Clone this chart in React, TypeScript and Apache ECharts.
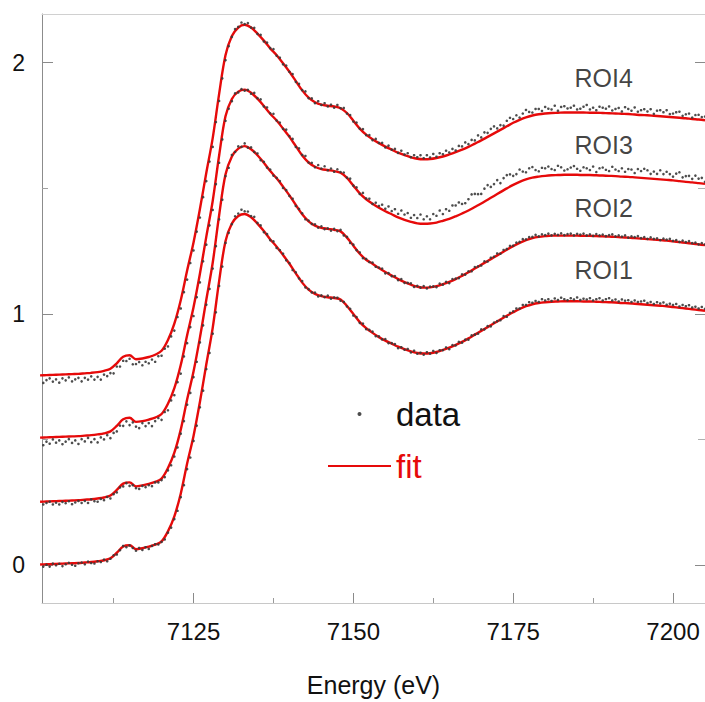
import React, { useEffect, useRef } from "react";
import * as echarts from "echarts";

// ---- sampling grids (energy, eV) ----
const FIT_START = 7101;
const FIT_STEP = 1;
const DATA_START = 7101;
const DATA_STEP = 0.5;

const X_MIN = 7101.3;
const X_MAX = 7205;
const Y_MIN = -0.15;
const Y_MAX = 2.194;

const xTickValues = [7125, 7150, 7175, 7200];
const xMinorTickValues = [7112.5, 7137.5, 7162.5, 7187.5];
const yTickValues = [0, 1, 2];
const yMinorTickValues = [0.5, 1.5];

const roiNames = ["ROI1", "ROI2", "ROI3", "ROI4"];
const roiOffsets = [0, 0.25, 0.5, 0.75];
const roiLabelX = 7184.5;
const roiLabelY = [1.174, 1.423, 1.672, 1.94];

// ---- fits (normalized, 1 eV steps from 7101) ----
const fitROI1 = [
  0.003, 0.004, 0.005, 0.006, 0.007, 0.008, 0.009, 0.011, 0.013, 0.016,
  0.020, 0.028, 0.050, 0.075, 0.080, 0.064, 0.068, 0.074, 0.082, 0.095,
  0.135, 0.195, 0.285, 0.405, 0.515, 0.650, 0.800, 0.945, 1.130, 1.290,
  1.360, 1.390, 1.398, 1.385, 1.360, 1.330, 1.297, 1.268, 1.235, 1.200,
  1.162, 1.125, 1.097, 1.080, 1.071, 1.067, 1.064, 1.058, 1.032, 1.000,
  0.968, 0.944, 0.925, 0.908, 0.894, 0.882, 0.870, 0.860, 0.851, 0.845,
  0.843, 0.844, 0.849, 0.857, 0.866, 0.877, 0.889, 0.903, 0.918, 0.933,
  0.948, 0.963, 0.978, 0.993, 1.007, 1.020, 1.031, 1.039, 1.044, 1.047,
  1.049, 1.050, 1.051, 1.051, 1.051, 1.050, 1.050, 1.049, 1.048, 1.047,
  1.046, 1.044, 1.043, 1.041, 1.039, 1.037, 1.035, 1.033, 1.031, 1.028,
  1.025, 1.022, 1.019, 1.016, 1.013,
];
const fitROI2 = [
  0.003, 0.004, 0.005, 0.006, 0.007, 0.008, 0.009, 0.011, 0.013, 0.016,
  0.020, 0.028, 0.050, 0.075, 0.080, 0.064, 0.068, 0.074, 0.082, 0.095,
  0.137, 0.198, 0.290, 0.410, 0.521, 0.656, 0.807, 0.954, 1.142, 1.305,
  1.377, 1.408, 1.418, 1.406, 1.382, 1.352, 1.319, 1.290, 1.257, 1.222,
  1.184, 1.147, 1.119, 1.102, 1.093, 1.089, 1.085, 1.079, 1.054, 1.022,
  0.990, 0.966, 0.950, 0.933, 0.917, 0.903, 0.889, 0.877, 0.867, 0.859,
  0.855, 0.856, 0.861, 0.869, 0.878, 0.889, 0.902, 0.916, 0.931, 0.946,
  0.961, 0.976, 0.991, 1.006, 1.020, 1.033, 1.044, 1.052, 1.057, 1.060,
  1.062, 1.062, 1.062, 1.062, 1.062, 1.061, 1.061, 1.060, 1.059, 1.058,
  1.057, 1.055, 1.054, 1.052, 1.050, 1.048, 1.046, 1.044, 1.042, 1.039,
  1.036, 1.033, 1.030, 1.027, 1.024,
];
const fitROI3 = [
  0.008, 0.009, 0.010, 0.011, 0.012, 0.013, 0.014, 0.016, 0.018, 0.021,
  0.025, 0.033, 0.055, 0.081, 0.087, 0.071, 0.074, 0.080, 0.088, 0.102,
  0.143, 0.205, 0.297, 0.416, 0.527, 0.660, 0.808, 0.950, 1.130, 1.287,
  1.356, 1.385, 1.393, 1.381, 1.357, 1.328, 1.297, 1.270, 1.238, 1.205,
  1.168, 1.131, 1.103, 1.086, 1.077, 1.073, 1.069, 1.062, 1.042, 1.011,
  0.980, 0.957, 0.939, 0.923, 0.909, 0.897, 0.885, 0.875, 0.867, 0.861,
  0.859, 0.860, 0.864, 0.871, 0.879, 0.889, 0.900, 0.912, 0.926, 0.940,
  0.955, 0.970, 0.985, 1.000, 1.014, 1.026, 1.036, 1.043, 1.047, 1.050,
  1.052, 1.053, 1.054, 1.054, 1.054, 1.053, 1.053, 1.052, 1.051, 1.050,
  1.049, 1.047, 1.046, 1.044, 1.042, 1.040, 1.038, 1.036, 1.034, 1.032,
  1.029, 1.026, 1.024, 1.021, 1.018,
];
const fitROI4 = [
  0.006, 0.007, 0.008, 0.009, 0.010, 0.011, 0.012, 0.014, 0.016, 0.019,
  0.024, 0.032, 0.054, 0.080, 0.086, 0.070, 0.073, 0.079, 0.088, 0.104,
  0.147, 0.212, 0.305, 0.423, 0.535, 0.668, 0.812, 0.950, 1.125, 1.280,
  1.356, 1.390, 1.401, 1.390, 1.366, 1.338, 1.307, 1.280, 1.248, 1.214,
  1.177, 1.140, 1.111, 1.093, 1.083, 1.079, 1.076, 1.069, 1.050, 1.019,
  0.988, 0.964, 0.946, 0.930, 0.916, 0.904, 0.892, 0.882, 0.874, 0.868,
  0.866, 0.867, 0.871, 0.877, 0.885, 0.894, 0.904, 0.915, 0.928, 0.941,
  0.955, 0.969, 0.983, 0.997, 1.011, 1.023, 1.033, 1.040, 1.045, 1.048,
  1.050, 1.051, 1.052, 1.052, 1.052, 1.052, 1.051, 1.051, 1.050, 1.049,
  1.048, 1.047, 1.046, 1.044, 1.042, 1.041, 1.039, 1.037, 1.035, 1.033,
  1.031, 1.029, 1.026, 1.024, 1.021,
];

// ---- measured data (normalized, 0.5 eV steps from 7101) ----
const dataROI1 = [
  0.004, -0.005, 0.002, -0.005, 0.007, 0.000, 0.006, -0.003, 0.004, 0.010,
  0.002, -0.002, 0.008, 0.011, 0.004, 0.015, 0.009, 0.007, 0.016, 0.013,
  0.023, 0.016, 0.026, 0.040, 0.043, 0.060, 0.077, 0.072, 0.079, 0.069,
  0.058, 0.069, 0.061, 0.072, 0.065, 0.077, 0.084, 0.083, 0.093, 0.103,
  0.130, 0.150, 0.184, 0.217, 0.271, 0.319, 0.383, 0.429, 0.495, 0.556,
  0.629, 0.695, 0.781, 0.845, 0.922, 1.007, 1.112, 1.189, 1.283, 1.323,
  1.358, 1.389, 1.400, 1.415, 1.409, 1.408, 1.390, 1.387, 1.363, 1.353,
  1.326, 1.318, 1.294, 1.289, 1.263, 1.254, 1.240, 1.214, 1.203, 1.175,
  1.166, 1.142, 1.131, 1.106, 1.099, 1.086, 1.085, 1.070, 1.074, 1.067,
  1.073, 1.061, 1.066, 1.065, 1.053, 1.048, 1.030, 1.021, 0.994, 0.988,
  0.965, 0.962, 0.940, 0.937, 0.930, 0.912, 0.911, 0.899, 0.900, 0.884,
  0.884, 0.880, 0.864, 0.868, 0.858, 0.861, 0.847, 0.854, 0.842, 0.846,
  0.838, 0.848, 0.842, 0.853, 0.845, 0.856, 0.856, 0.867, 0.860, 0.876,
  0.875, 0.889, 0.886, 0.898, 0.898, 0.915, 0.918, 0.922, 0.939, 0.939,
  0.952, 0.951, 0.966, 0.972, 0.975, 0.992, 0.989, 1.005, 1.011, 1.022,
  1.022, 1.036, 1.036, 1.047, 1.045, 1.052, 1.048, 1.059, 1.054, 1.059,
  1.052, 1.062, 1.056, 1.065, 1.059, 1.055, 1.063, 1.058, 1.066, 1.056,
  1.061, 1.058, 1.063, 1.054, 1.059, 1.063, 1.054, 1.059, 1.063, 1.054,
  1.058, 1.050, 1.058, 1.053, 1.055, 1.048, 1.054, 1.048, 1.050, 1.053,
  1.044, 1.048, 1.040, 1.047, 1.042, 1.046, 1.037, 1.041, 1.036, 1.040,
  1.030, 1.036, 1.031, 1.035, 1.026, 1.029, 1.022, 1.028, 1.021,
];
const dataROI2 = [
  0.000, -0.008, -0.002, 0.003, -0.008, -0.001, -0.008, 0.002, -0.003, 0.005,
  -0.007, 0.000, 0.006, -0.002, 0.006, -0.002, 0.012, 0.005, 0.003, 0.014,
  0.009, 0.022, 0.016, 0.033, 0.040, 0.060, 0.064, 0.077, 0.066, 0.069,
  0.057, 0.054, 0.066, 0.061, 0.069, 0.065, 0.080, 0.080, 0.089, 0.101,
  0.128, 0.148, 0.183, 0.219, 0.274, 0.324, 0.389, 0.436, 0.499, 0.560,
  0.637, 0.705, 0.787, 0.850, 0.931, 1.020, 1.127, 1.205, 1.299, 1.332,
  1.383, 1.395, 1.417, 1.415, 1.429, 1.412, 1.413, 1.395, 1.389, 1.362,
  1.356, 1.333, 1.325, 1.301, 1.292, 1.279, 1.252, 1.243, 1.220, 1.209,
  1.180, 1.168, 1.151, 1.127, 1.122, 1.109, 1.107, 1.094, 1.099, 1.088,
  1.091, 1.082, 1.089, 1.080, 1.085, 1.063, 1.057, 1.033, 1.026, 1.004,
  0.995, 0.972, 0.969, 0.957, 0.955, 0.938, 0.935, 0.931, 0.912, 0.913,
  0.901, 0.901, 0.885, 0.889, 0.874, 0.874, 0.872, 0.858, 0.862, 0.855,
  0.861, 0.852, 0.859, 0.860, 0.857, 0.871, 0.867, 0.878, 0.873, 0.889,
  0.891, 0.893, 0.908, 0.907, 0.920, 0.920, 0.937, 0.940, 0.943, 0.960,
  0.959, 0.974, 0.978, 0.991, 0.990, 1.005, 1.009, 1.021, 1.022, 1.034,
  1.037, 1.048, 1.047, 1.056, 1.057, 1.065, 1.059, 1.067, 1.064, 1.070,
  1.063, 1.069, 1.065, 1.071, 1.064, 1.068, 1.070, 1.063, 1.069, 1.066,
  1.070, 1.063, 1.067, 1.061, 1.068, 1.063, 1.066, 1.060, 1.064, 1.067,
  1.059, 1.063, 1.058, 1.063, 1.054, 1.059, 1.056, 1.060, 1.052, 1.056,
  1.049, 1.055, 1.049, 1.051, 1.044, 1.050, 1.046, 1.049, 1.041, 1.044,
  1.037, 1.042, 1.036, 1.040, 1.032, 1.034, 1.027, 1.032, 1.027,
];
const dataROI3 = [
  -0.004, -0.022, -0.008, -0.016, 0.001, -0.012, -0.003, -0.018, -0.008, 0.002,
  -0.013, -0.003, -0.017, 0.002, -0.007, 0.007, -0.010, 0.002, -0.011, 0.009,
  0.001, 0.018, 0.006, 0.027, 0.033, 0.056, 0.055, 0.073, 0.058, 0.069,
  0.052, 0.046, 0.066, 0.054, 0.066, 0.054, 0.074, 0.086, 0.079, 0.110,
  0.117, 0.156, 0.177, 0.229, 0.263, 0.331, 0.384, 0.448, 0.492, 0.567,
  0.626, 0.710, 0.776, 0.853, 0.914, 1.017, 1.102, 1.195, 1.269, 1.317,
  1.347, 1.378, 1.382, 1.395, 1.389, 1.392, 1.377, 1.380, 1.359, 1.354,
  1.326, 1.322, 1.299, 1.297, 1.270, 1.262, 1.237, 1.234, 1.208, 1.197,
  1.165, 1.159, 1.133, 1.129, 1.103, 1.102, 1.084, 1.093, 1.079, 1.088,
  1.072, 1.079, 1.066, 1.076, 1.065, 1.063, 1.043, 1.039, 1.011, 1.004,
  0.978, 0.982, 0.960, 0.959, 0.938, 0.943, 0.930, 0.935, 0.919, 0.928,
  0.910, 0.917, 0.899, 0.912, 0.896, 0.902, 0.883, 0.894, 0.882, 0.896,
  0.877, 0.889, 0.877, 0.898, 0.891, 0.912, 0.898, 0.917, 0.911, 0.932,
  0.932, 0.944, 0.938, 0.941, 0.957, 0.976, 0.978, 0.977, 0.978, 0.999,
  1.013, 1.006, 1.017, 1.033, 1.021, 1.041, 1.053, 1.056, 1.050, 1.057,
  1.075, 1.067, 1.064, 1.080, 1.085, 1.073, 1.068, 1.082, 1.080, 1.087,
  1.077, 1.073, 1.090, 1.084, 1.071, 1.076, 1.083, 1.089, 1.078, 1.070,
  1.084, 1.080, 1.073, 1.087, 1.065, 1.080, 1.083, 1.074, 1.069, 1.086,
  1.075, 1.069, 1.080, 1.066, 1.077, 1.075, 1.061, 1.077, 1.069, 1.078,
  1.072, 1.058, 1.067, 1.058, 1.072, 1.057, 1.066, 1.057, 1.047, 1.059,
  1.064, 1.044, 1.049, 1.050, 1.038, 1.051, 1.039, 1.042, 1.026,
];
const dataROI4 = [
  -0.010, -0.024, -0.013, -0.006, -0.019, -0.010, -0.023, -0.006, -0.014, -0.002,
  -0.018, -0.010, -0.004, -0.018, -0.004, -0.011, 0.002, -0.011, 0.000, -0.011,
  0.009, 0.003, 0.015, 0.014, 0.041, 0.041, 0.064, 0.063, 0.072, 0.050,
  0.051, 0.059, 0.046, 0.060, 0.054, 0.069, 0.060, 0.082, 0.084, 0.112,
  0.121, 0.161, 0.184, 0.238, 0.272, 0.337, 0.387, 0.453, 0.503, 0.578,
  0.634, 0.715, 0.779, 0.857, 0.915, 1.014, 1.098, 1.188, 1.260, 1.316,
  1.353, 1.384, 1.393, 1.410, 1.404, 1.408, 1.390, 1.389, 1.365, 1.361,
  1.335, 1.330, 1.308, 1.304, 1.278, 1.270, 1.244, 1.239, 1.214, 1.205,
  1.174, 1.166, 1.141, 1.136, 1.109, 1.108, 1.089, 1.097, 1.082, 1.089,
  1.076, 1.083, 1.071, 1.082, 1.069, 1.070, 1.048, 1.042, 1.016, 1.012,
  0.988, 0.986, 0.962, 0.962, 0.942, 0.947, 0.931, 0.931, 0.913, 0.920,
  0.904, 0.907, 0.891, 0.900, 0.885, 0.890, 0.874, 0.882, 0.874, 0.882,
  0.870, 0.882, 0.873, 0.887, 0.876, 0.890, 0.886, 0.900, 0.893, 0.907,
  0.901, 0.919, 0.917, 0.933, 0.926, 0.943, 0.941, 0.961, 0.953, 0.973,
  0.971, 0.987, 0.997, 0.989, 1.002, 1.000, 1.019, 1.031, 1.026, 1.041,
  1.032, 1.048, 1.062, 1.054, 1.052, 1.066, 1.066, 1.058, 1.074, 1.067,
  1.064, 1.079, 1.059, 1.074, 1.077, 1.068, 1.071, 1.079, 1.064, 1.067,
  1.075, 1.082, 1.064, 1.071, 1.061, 1.075, 1.071, 1.067, 1.076, 1.060,
  1.066, 1.070, 1.056, 1.073, 1.066, 1.059, 1.072, 1.055, 1.061, 1.065,
  1.056, 1.065, 1.047, 1.059, 1.061, 1.053, 1.061, 1.046, 1.048, 1.053,
  1.055, 1.039, 1.045, 1.048, 1.032, 1.042, 1.043, 1.034, 1.036,
];

const fitSets = [fitROI1, fitROI2, fitROI3, fitROI4];
const dataSets = [dataROI1, dataROI2, dataROI3, dataROI4];

const FONT = "'Liberation Sans', Arial, sans-serif";
const RED = "#e60a0a";
const DOT = "#3a3a3a";
const TEXT = "#111111";

function buildOption(): echarts.EChartsCoreOption {
  const fitSeries = fitSets.map((arr, k) => ({
    type: "line",
    name: "fit",
    data: arr.map((v, i) => [FIT_START + i * FIT_STEP, v + roiOffsets[k]]),
    showSymbol: false,
    symbol: "none",
    smooth: 0.35,
    lineStyle: { color: RED, width: 2.4 },
    itemStyle: { color: RED },
    silent: true,
    z: 2,
  }));
  const dataSeries = dataSets.map((arr, k) => ({
    type: "scatter",
    name: "data",
    data: arr.map((v, j) => [DATA_START + j * DATA_STEP, v + roiOffsets[k]]),
    symbol: "circle",
    symbolSize: 2.6,
    itemStyle: { color: DOT, opacity: 0.9 },
    silent: true,
    z: 3,
  }));
  const labelSeries = {
    type: "scatter",
    name: "roi-labels",
    data: roiNames.map((n, k) => ({ name: n, value: [roiLabelX, roiLabelY[k]] })),
    symbolSize: 1,
    itemStyle: { color: "rgba(0,0,0,0)" },
    label: {
      show: true,
      position: "right",
      distance: 0,
      formatter: "{b}",
      fontSize: 25,
      color: TEXT,
      fontFamily: FONT,
    },
    silent: true,
    z: 5,
  };

  const common = { type: "value", min: X_MIN, max: X_MAX, splitLine: { show: false } };
  const commonY = { type: "value", min: Y_MIN, max: Y_MAX, splitLine: { show: false } };

  return {
    animation: false,
    backgroundColor: "#ffffff",
    grid: { left: 42, top: 14, right: 0, bottom: 95, containLabel: false },
    legend: {
      show: true,
      orient: "vertical",
      left: 327,
      top: 397,
      padding: 0,
      itemWidth: 63,
      itemHeight: 4,
      itemGap: 18,
      selectedMode: false,
      data: [
        { name: "data", icon: "circle", itemStyle: { color: DOT } },
        { name: "fit", itemStyle: { opacity: 0 }, lineStyle: { color: RED, width: 2 }, textStyle: { color: RED } },
      ],
      textStyle: { fontSize: 33, lineHeight: 34, color: TEXT, fontFamily: FONT },
    },
    xAxis: [
      {
        ...common,
        position: "bottom",
        axisLine: { show: true, onZero: false, lineStyle: { color: "#c8c8c8", width: 1 } },
        axisTick: { show: true, inside: true, length: 10, customValues: xTickValues, lineStyle: { color: "#8a8a8a" } },
        axisLabel: {
          show: true,
          customValues: xTickValues,
          formatter: (v: number) => String(v),
          fontSize: 24,
          color: TEXT,
          margin: 16,
          fontFamily: FONT,
        },
        name: "Energy (eV)",
        nameLocation: "middle",
        nameGap: 69,
        nameTextStyle: { fontSize: 25, color: TEXT, fontFamily: FONT },
      },
      {
        ...common,
        position: "bottom",
        axisLine: { show: false, onZero: false },
        axisTick: { show: true, inside: true, length: 5, customValues: xMinorTickValues, lineStyle: { color: "#9a9a9a" } },
        axisLabel: { show: false },
      },
      {
        ...common,
        position: "top",
        axisLine: { show: true, onZero: false, lineStyle: { color: "#d0d0d0", width: 1 } },
        axisTick: { show: false },
        axisLabel: { show: false },
      },
    ],
    yAxis: [
      {
        ...commonY,
        position: "left",
        axisLine: { show: true, onZero: false, lineStyle: { color: "#8c8c8c", width: 1 } },
        axisTick: { show: true, inside: true, length: 11, customValues: yTickValues, lineStyle: { color: "#8a8a8a" } },
        axisLabel: {
          show: true,
          customValues: yTickValues,
          formatter: (v: number) => String(v),
          fontSize: 23,
          color: TEXT,
          margin: 17,
          fontFamily: FONT,
        },
      },
      {
        ...commonY,
        position: "left",
        axisLine: { show: false, onZero: false },
        axisTick: { show: true, inside: true, length: 6, customValues: yMinorTickValues, lineStyle: { color: "#a0a0a0" } },
        axisLabel: { show: false },
      },
      {
        ...commonY,
        position: "right",
        axisLine: { show: false, onZero: false },
        axisTick: { show: true, inside: true, length: 10, customValues: yTickValues, lineStyle: { color: "#8a8a8a" } },
        axisLabel: { show: false },
      },
      {
        ...commonY,
        position: "right",
        axisLine: { show: false, onZero: false },
        axisTick: { show: true, inside: true, length: 7, customValues: yMinorTickValues, lineStyle: { color: "#b0b0b0" } },
        axisLabel: { show: false },
      },
    ],
    series: [...fitSeries, ...dataSeries, labelSeries],
  };
}

export default function App() {
  const ref = useRef<HTMLDivElement | null>(null);
  useEffect(() => {
    if (!ref.current) return;
    const chart = echarts.init(ref.current, undefined, { renderer: "svg" });
    chart.setOption(buildOption());
    return () => {
      chart.dispose();
    };
  }, []);
  return (
    <div
      ref={ref}
      style={{ position: "absolute", left: 0, top: 0, width: 705, height: 702, background: "#fff" }}
    />
  );
}
